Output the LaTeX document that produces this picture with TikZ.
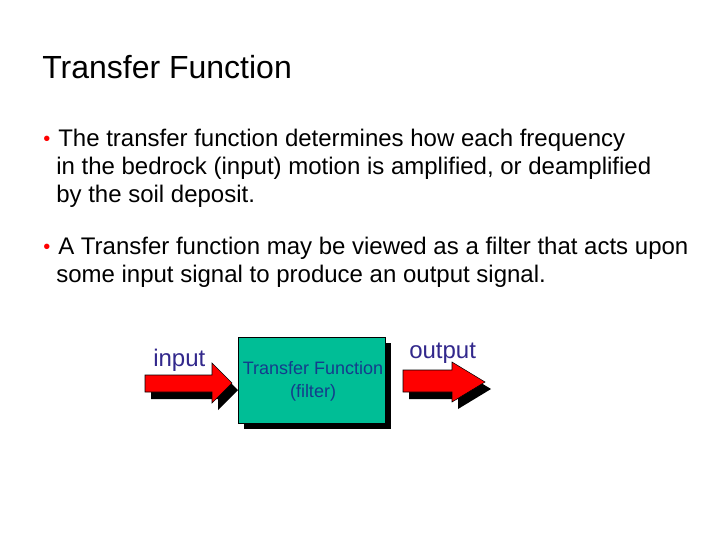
\documentclass[tikz,border=0pt]{standalone}
\usepackage{fontspec}
\setmainfont{Liberation Sans}
\begin{document}
\begin{tikzpicture}[x=0.75pt,y=-0.75pt,
  body/.style={anchor=base west,inner sep=0pt,font=\fontsize{18}{21}\selectfont},
  bul/.style={anchor=base west,inner sep=0pt,text=red,font=\fontsize{15}{17}\selectfont},
  lbl/.style={anchor=base west,inner sep=0pt,text={rgb,255:red,50;green,40;blue,140},font=\fontsize{18}{21}\selectfont}]
\definecolor{teal1}{RGB}{0,190,150}
\definecolor{tfblue}{RGB}{20,60,140}
\fill[white] (0,0) rectangle (720,540);
\node[anchor=base west,inner sep=0pt,font=\fontsize{24}{28}\selectfont] (title) at (42,78) {Transfer Function};
\node[bul] (b1) at (43,145) {\textbullet};
\node[body] (l1) at (58,146) {The transfer function determines how each frequency};
\node[body] (l2) at (56,174) {in the bedrock (input) motion is amplified, or deamplified};
\node[body] (l3) at (56,202) {by the soil deposit.};
\node[bul] (b2) at (43,253) {\textbullet};
\node[body] (l4) at (58,254) {A Transfer function may be viewed as a filter that acts upon};
\node[body] (l5) at (56,282) {some input signal to produce an output signal.};
% input arrow
\begin{scope}[shift={(6,7)}]
\fill[black] (145,375) -- (212,375) -- (212,363) -- (232,383) -- (212,403) -- (212,392) -- (145,392) -- cycle;
\end{scope}
\filldraw[fill=red,draw=black] (145,375) -- (212,375) -- (212,363) -- (232,383) -- (212,403) -- (212,392) -- (145,392) -- cycle;
\node[lbl] (in) at (153,366) {input};
% box
\fill[black] (244,343) rectangle (391,429);
\node[draw=black,fill=teal1,minimum width=147*0.75pt,minimum height=86*0.75pt,anchor=north west,inner sep=0pt] (tf) at (238,337) {};
\node[text=tfblue,font=\fontsize{13.5}{17}\selectfont,align=center] (tft) at (313,381) {Transfer Function\\(filter)};
% output arrow
\begin{scope}[shift={(6,7)}]
\fill[black] (403,370) -- (452,370) -- (452,362) -- (485,382) -- (452,402) -- (452,392) -- (403,392) -- cycle;
\end{scope}
\filldraw[fill=red,draw=black] (403,370) -- (452,370) -- (452,362) -- (485,382) -- (452,402) -- (452,392) -- (403,392) -- cycle;
\node[lbl] (out) at (409,358) {output};
\end{tikzpicture}
\end{document}
